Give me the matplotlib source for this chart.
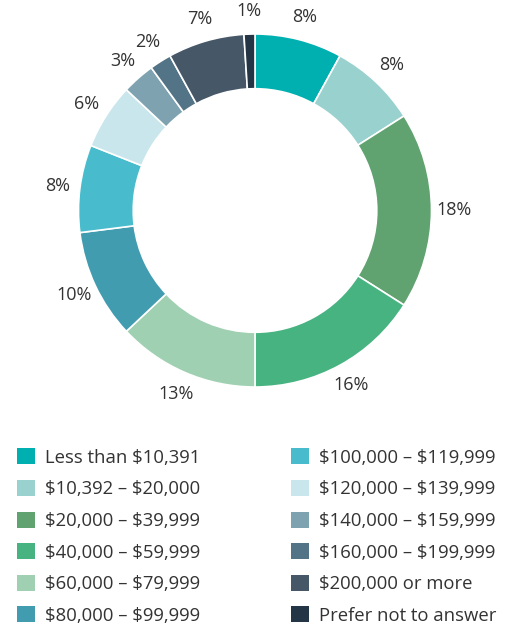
import matplotlib
matplotlib.use("Agg")
import matplotlib.pyplot as plt
from matplotlib.patches import Patch

plt.rcParams['font.family'] = ['Open Sans', 'DejaVu Sans']
plt.rcParams['text.parse_math'] = False

categories = [
    "Less than $10,391", "$10,392 – $20,000", "$20,000 – $39,999",
    "$40,000 – $59,999", "$60,000 – $79,999", "$80,000 – $99,999",
    "$100,000 – $119,999", "$120,000 – $139,999", "$140,000 – $159,999",
    "$160,000 – $199,999", "$200,000 or more", "Prefer not to answer",
]
shares = [8, 8, 18, 16, 13, 10, 8, 6, 3, 2, 7, 1]
colors = [
    "#00B0B0", "#99D1CF", "#61A370", "#47B381", "#9FD0B2", "#429CB0",
    "#48BCCC", "#C9E6EC", "#7FA2B1", "#537386", "#465767", "#243645",
]
text_color = "#333333"

W, H = 524, 626
fig = plt.figure(figsize=(W / 100, H / 100), dpi=100)

# donut: centre (255, 210.5) px from top, outer radius 176.5 px
cx, cy, R = 255, 210.5, 176.5
half = 1.25 * R
ax = fig.add_axes([(cx - half) / W, (H - cy - half) / H, 2 * half / W, 2 * half / H])
ax.set_xlim(-1.25, 1.25)
ax.set_ylim(-1.25, 1.25)
ax.set_aspect("equal")
ax.axis("off")

ax.pie(
    shares, colors=colors, startangle=90, counterclock=False, radius=1.0,
    wedgeprops=dict(width=0.31, edgecolor="white", linewidth=1.2),
    autopct="%.0f%%", pctdistance=1.13,
    textprops=dict(color=text_color, fontsize=13),
)

handles = [Patch(facecolor=c, edgecolor="none") for c in colors]
fig.legend(
    handles, categories, ncol=2, loc="upper left",
    bbox_to_anchor=(10 / W, 1 - 441 / H), frameon=False,
    fontsize=13.3, labelcolor=text_color,
    handlelength=0.95, handleheight=0.95, handletextpad=0.55,
    labelspacing=0.72, columnspacing=4.9, borderaxespad=0,
)

fig.savefig("out.png", dpi=100, facecolor="white")
